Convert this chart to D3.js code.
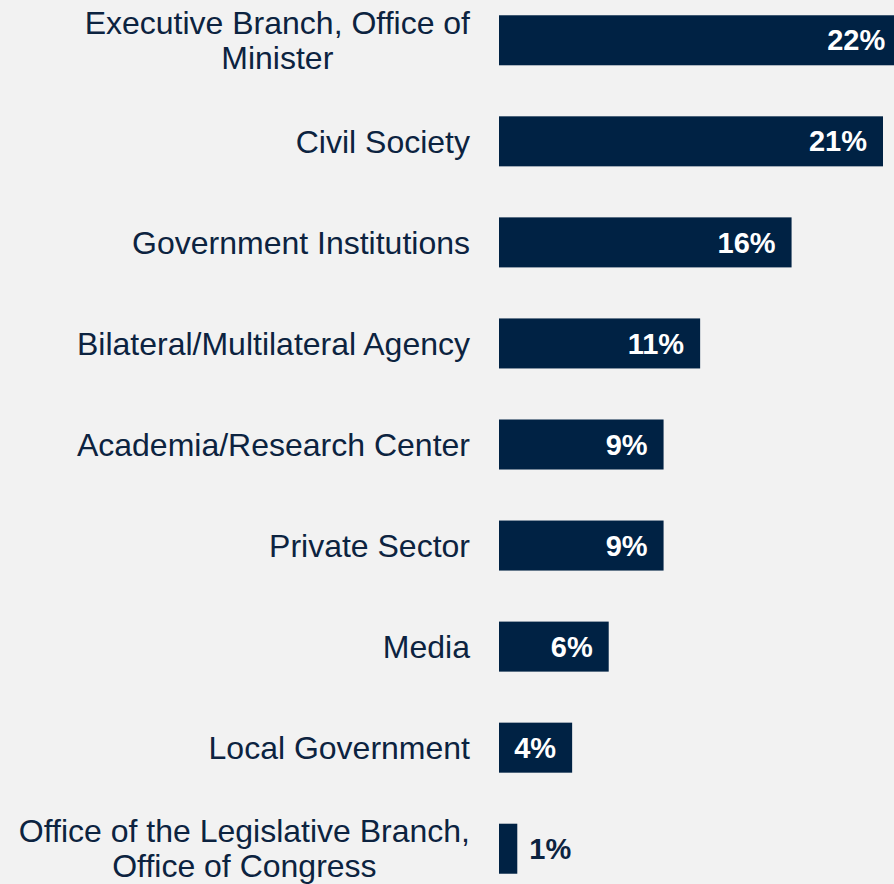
<!DOCTYPE html>
<html>
<head>
<meta charset="utf-8">
<script src="https://cdn.jsdelivr.net/npm/d3@7"></script>
<style>
  html, body { margin: 0; padding: 0; background: #f2f2f2; }
  svg { display: block; }
</style>
</head>
<body>
<div id="chart"></div>
<script>
// Share of respondents by type of organization
const categories = [
  ["Executive Branch, Office of", "Minister"],
  ["Civil Society"],
  ["Government Institutions"],
  ["Bilateral/Multilateral Agency"],
  ["Academia/Research Center"],
  ["Private Sector"],
  ["Media"],
  ["Local Government"],
  ["Office of the Legislative Branch,", "Office of Congress"]
];
const values = [22, 21, 16, 11, 9, 9, 6, 4, 1];

const W = 894, H = 884;
const barColor = "#002244";
const textColor = "#0c2340";

const svg = d3.select("#chart").append("svg")
  .attr("width", W).attr("height", H)
  .style("background", "#f2f2f2");

const idx = d3.range(values.length);

const y = d3.scaleBand()
  .domain(idx)
  .range([-10, 899])
  .paddingInner(0.505)
  .paddingOuter(0.25);

const x = d3.scaleLinear()
  .domain([0, 21])
  .range([499, 883]);

const rows = svg.selectAll("g.row")
  .data(idx)
  .join("g")
  .attr("class", "row");

rows.append("rect")
  .attr("x", x(0))
  .attr("y", i => y(i))
  .attr("width", i => x(values[i]) - x(0))
  .attr("height", y.bandwidth())
  .attr("fill", barColor);

// category labels, right-aligned left of the bars
rows.append("text")
  .attr("text-anchor", "end")
  .attr("font-family", "Liberation Sans, Arial, sans-serif")
  .attr("font-size", 32)
  .attr("fill", textColor)
  .each(function(i) {
    const lines = categories[i];
    const cy = y(i) + y.bandwidth() / 2;
    const lh = 35;
    const t = d3.select(this);
    lines.forEach((ln, k) => {
      t.append("tspan")
        .attr("x", 470)
        .attr("y", cy + (k - (lines.length - 1) / 2) * lh)
        .attr("dy", "0.35em")
        .text(ln);
    });
  });

// multi-line labels: second line is centered under the first
rows.filter(i => categories[i].length > 1).each(function() {
  const spans = d3.select(this).select("text").selectAll("tspan").nodes();
  const first = spans[0].getComputedTextLength();
  const center = 470 - first / 2;
  d3.select(spans[1]).attr("x", center).attr("text-anchor", "middle");
});

// value labels
rows.append("text")
  .attr("font-family", "Liberation Sans, Arial, sans-serif")
  .attr("font-weight", "bold")
  .attr("font-size", 29)
  .attr("dy", "0.35em")
  .attr("y", i => y(i) + y.bandwidth() / 2)
  .attr("x", i => values[i] >= 3 ? x(values[i]) - 16 : x(values[i]) + 12)
  .attr("text-anchor", i => values[i] >= 3 ? "end" : "start")
  .attr("fill", i => values[i] >= 3 ? "#ffffff" : textColor)
  .text(i => values[i] + "%");
</script>
</body>
</html>
